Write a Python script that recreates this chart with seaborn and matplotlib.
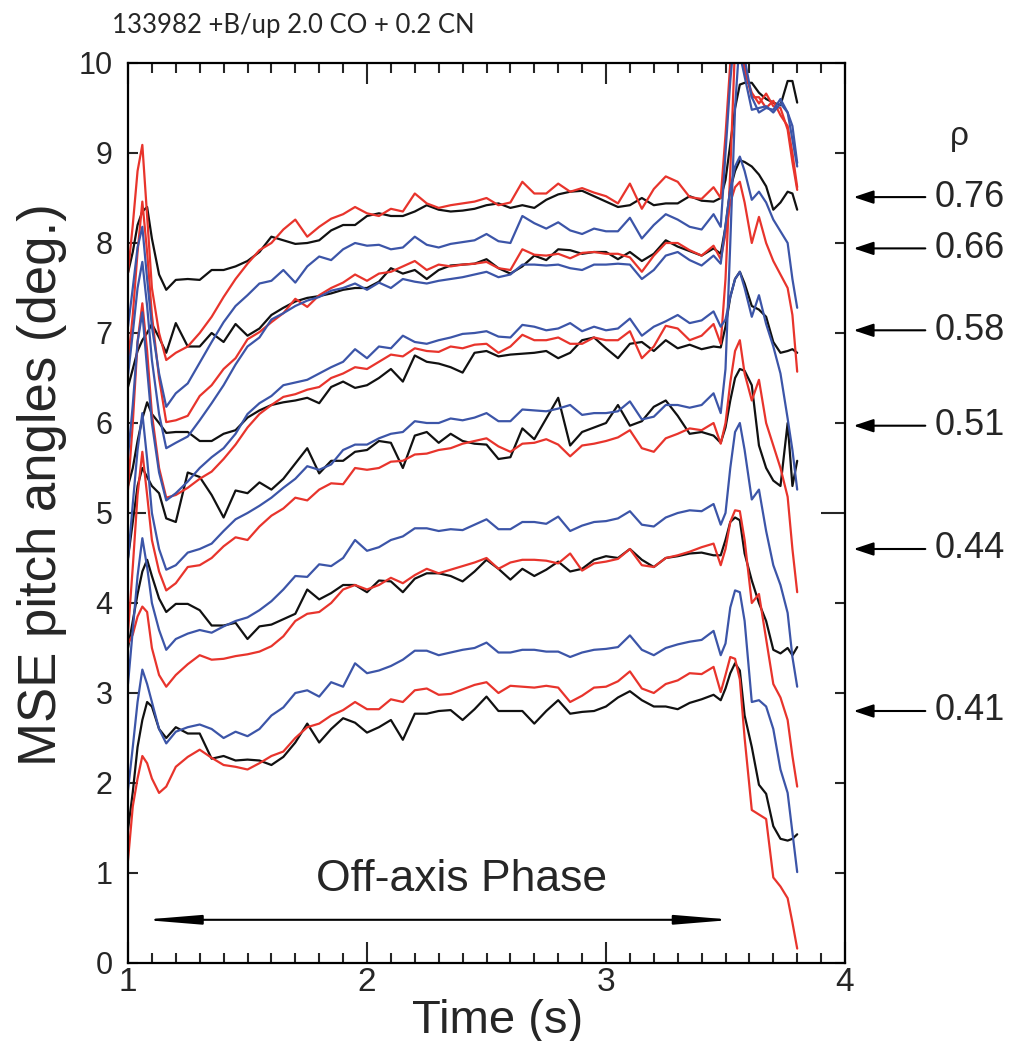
import numpy as np
import pandas as pd
import matplotlib
matplotlib.use("Agg")
import matplotlib.pyplot as plt
import matplotlib.transforms as mtransforms
from matplotlib.ticker import FixedLocator, MultipleLocator
import seaborn as sns

# ---------------- data ----------------
T = [1.00, 1.02, 1.04, 1.06, 1.08, 1.10, 1.13, 1.16, 1.20,
     1.25, 1.30, 1.35, 1.40, 1.45, 1.50, 1.55, 1.60, 1.65, 1.70,
     1.75, 1.80, 1.85, 1.90, 1.95, 2.00, 2.05, 2.10, 2.15, 2.20,
     2.25, 2.30, 2.35, 2.40, 2.45, 2.50, 2.55, 2.60, 2.65, 2.70,
     2.75, 2.80, 2.85, 2.90, 2.95, 3.00, 3.05, 3.10, 3.15, 3.20,
     3.25, 3.30, 3.35, 3.40, 3.45,
     3.48, 3.50, 3.52, 3.54, 3.56, 3.58, 3.61, 3.64, 3.67, 3.70, 3.73, 3.76, 3.78, 3.80]

k1 = [7.67, 7.90, 8.20, 8.35, 8.40, 8.05, 7.65, 7.48, 7.59,
      7.60, 7.59, 7.70, 7.70, 7.74, 7.80, 7.90, 8.07, 8.03, 7.99,
      8.00, 8.03, 8.14, 8.20, 8.20, 8.30, 8.33, 8.30, 8.30, 8.35,
      8.42, 8.37, 8.35, 8.36, 8.38, 8.42, 8.44, 8.39, 8.42, 8.39,
      8.48, 8.54, 8.57, 8.58, 8.52, 8.46, 8.40, 8.42, 8.50, 8.42,
      8.44, 8.44, 8.52, 8.47, 8.46,
      8.50, 8.70, 9.10, 9.50, 9.76, 9.78, 9.78, 9.67, 9.60, 9.56, 9.53, 9.80, 9.80, 9.56]
r1 = [7.67, 8.20, 8.80, 9.09, 8.30, 7.50, 7.00, 6.70, 6.78,
      6.85, 7.00, 7.18, 7.40, 7.60, 7.77, 7.92, 8.00, 8.15, 8.26,
      8.07, 8.18, 8.27, 8.32, 8.40, 8.33, 8.30, 8.38, 8.35, 8.55,
      8.44, 8.39, 8.42, 8.44, 8.46, 8.50, 8.42, 8.45, 8.68, 8.55,
      8.55, 8.66, 8.57, 8.61, 8.56, 8.52, 8.44, 8.66, 8.38, 8.60,
      8.74, 8.68, 8.51, 8.49, 8.62,
      8.50, 9.20, 10.0, 10.5, 10.1, 9.90, 9.67, 9.55, 9.66, 9.52, 9.50, 9.26, 8.90, 8.59]
b1 = [7.07, 7.50, 7.95, 8.18, 7.60, 7.07, 6.55, 6.18, 6.33,
      6.44, 6.67, 6.90, 7.12, 7.30, 7.42, 7.55, 7.58, 7.70, 7.56,
      7.74, 7.85, 7.81, 7.93, 8.00, 7.97, 7.98, 7.93, 7.95, 8.07,
      7.98, 7.95, 7.99, 8.01, 8.03, 8.10, 8.02, 8.00, 8.30, 8.22,
      8.16, 8.23, 8.14, 8.10, 8.16, 8.13, 8.13, 8.28, 8.05, 8.20,
      8.32, 8.26, 8.18, 8.15, 8.32,
      8.18, 9.00, 9.80, 10.4, 10.1, 9.85, 9.48, 9.50, 9.52, 9.45, 9.55, 9.45, 9.30, 8.89]
k2 = [6.40, 6.60, 6.80, 6.92, 7.00, 7.10, 6.95, 6.78, 7.11,
      6.85, 6.85, 7.00, 6.90, 7.10, 6.97, 7.05, 7.20, 7.28, 7.35,
      7.39, 7.41, 7.44, 7.48, 7.50, 7.50, 7.57, 7.72, 7.66, 7.70,
      7.60, 7.70, 7.75, 7.76, 7.77, 7.82, 7.72, 7.66, 7.74, 7.86,
      7.81, 7.93, 7.92, 7.88, 7.90, 7.90, 7.82, 7.90, 7.80, 7.88,
      8.03, 7.96, 7.91, 7.86, 7.94,
      7.88, 8.18, 8.60, 8.80, 8.92, 8.90, 8.85, 8.76, 8.63, 8.37, 8.45, 8.57, 8.55, 8.37]
r2 = [6.67, 7.20, 7.90, 8.46, 7.90, 7.20, 6.50, 6.01, 6.03,
      6.08, 6.30, 6.42, 6.60, 6.72, 6.93, 7.01, 7.12, 7.22, 7.38,
      7.29, 7.42, 7.50, 7.56, 7.65, 7.58, 7.66, 7.68, 7.74, 7.80,
      7.70, 7.76, 7.74, 7.76, 7.77, 7.79, 7.72, 7.70, 7.93, 7.87,
      7.86, 7.88, 7.83, 7.89, 7.90, 7.88, 7.88, 7.84, 7.68, 7.86,
      8.00, 8.00, 7.92, 7.86, 7.97,
      7.82, 8.10, 8.45, 8.62, 8.68, 8.45, 8.00, 8.29, 8.00, 7.80, 7.65, 7.50, 7.20, 6.57]
b2 = [6.53, 7.00, 7.50, 7.79, 7.30, 6.70, 6.10, 5.72, 5.78,
      5.85, 6.03, 6.22, 6.42, 6.65, 6.85, 6.95, 7.15, 7.22, 7.30,
      7.36, 7.40, 7.47, 7.50, 7.55, 7.48, 7.56, 7.50, 7.60, 7.57,
      7.55, 7.58, 7.60, 7.62, 7.65, 7.68, 7.62, 7.65, 7.76, 7.76,
      7.75, 7.76, 7.72, 7.70, 7.76, 7.76, 7.77, 7.76, 7.60, 7.70,
      7.86, 7.90, 7.81, 7.75, 7.86,
      7.77, 8.20, 8.60, 8.85, 8.96, 8.80, 8.48, 8.57, 8.45, 8.26, 8.13, 8.00, 7.60, 7.28]
k3 = [5.30, 5.50, 5.80, 6.05, 6.23, 6.10, 6.00, 5.89, 5.90,
      5.90, 5.80, 5.80, 5.88, 5.92, 6.06, 6.14, 6.20, 6.23, 6.25,
      6.28, 6.22, 6.40, 6.46, 6.39, 6.42, 6.50, 6.60, 6.46, 6.75,
      6.68, 6.66, 6.62, 6.56, 6.78, 6.80, 6.74, 6.76, 6.77, 6.78,
      6.80, 6.72, 6.78, 6.92, 6.95, 6.83, 6.72, 6.88, 6.90, 6.80,
      6.92, 6.83, 6.87, 6.82, 6.85,
      6.84, 7.07, 7.40, 7.60, 7.68, 7.55, 7.30, 7.26, 7.18, 6.90, 6.78, 6.80, 6.82, 6.78]
r3 = [5.26, 6.00, 6.90, 7.33, 6.80, 6.10, 5.50, 5.17, 5.20,
      5.28, 5.38, 5.46, 5.60, 5.76, 5.95, 6.10, 6.20, 6.29, 6.32,
      6.37, 6.40, 6.50, 6.55, 6.62, 6.60, 6.68, 6.76, 6.74, 6.83,
      6.80, 6.79, 6.85, 6.83, 6.87, 6.88, 6.78, 6.85, 6.98, 6.92,
      6.92, 6.95, 6.88, 6.88, 6.95, 6.92, 6.92, 7.02, 6.72, 6.85,
      7.08, 7.05, 6.92, 6.97, 7.10,
      6.88, 7.60, 8.80, 10.2, 10.3, 9.95, 9.62, 9.62, 9.50, 9.58, 9.42, 9.30, 9.00, 8.62]
b3 = [5.63, 6.20, 6.90, 7.23, 6.60, 6.00, 5.45, 5.14, 5.22,
      5.35, 5.50, 5.62, 5.72, 5.88, 6.10, 6.22, 6.30, 6.42, 6.45,
      6.48, 6.55, 6.62, 6.68, 6.82, 6.72, 6.85, 6.83, 6.97, 6.90,
      6.88, 6.92, 6.95, 6.99, 7.00, 7.02, 6.96, 6.95, 7.09, 7.07,
      7.03, 7.05, 7.11, 7.02, 7.07, 7.03, 7.05, 7.16, 6.97, 7.07,
      7.13, 7.20, 7.11, 7.14, 7.24,
      7.07, 7.15, 7.40, 7.60, 7.68, 7.50, 7.18, 7.42, 7.10, 6.85, 6.55, 6.05, 5.70, 5.26]
k4 = [4.50, 4.90, 5.30, 5.50, 5.40, 5.30, 5.22, 4.94, 4.90,
      5.45, 5.40, 5.20, 4.95, 5.25, 5.22, 5.34, 5.26, 5.38, 5.55,
      5.72, 5.44, 5.58, 5.58, 5.68, 5.70, 5.80, 5.78, 5.50, 5.86,
      5.90, 5.78, 5.88, 5.80, 5.77, 5.76, 5.60, 5.62, 5.94, 5.82,
      6.05, 6.28, 5.75, 5.90, 5.95, 6.00, 6.20, 5.97, 6.02, 6.18,
      6.25, 6.08, 5.88, 5.90, 5.86,
      5.78, 5.95, 6.25, 6.50, 6.60, 6.58, 6.42, 5.75, 5.50, 5.36, 5.30, 6.00, 5.30, 5.58]
r4 = [3.67, 4.40, 5.20, 5.68, 5.20, 4.70, 4.35, 4.14, 4.22,
      4.40, 4.42, 4.50, 4.63, 4.73, 4.70, 4.85, 4.97, 5.05, 5.17,
      5.14, 5.26, 5.33, 5.32, 5.50, 5.48, 5.50, 5.57, 5.58, 5.65,
      5.66, 5.70, 5.72, 5.77, 5.80, 5.83, 5.74, 5.68, 5.77, 5.78,
      5.82, 5.76, 5.63, 5.75, 5.77, 5.80, 5.84, 5.92, 5.72, 5.68,
      5.83, 5.88, 5.94, 5.92, 6.00,
      5.77, 6.00, 6.45, 6.80, 6.92, 6.55, 6.25, 6.48, 6.00, 5.75, 5.50, 5.18, 4.60, 4.12]
b4 = [4.48, 5.10, 5.70, 6.11, 5.60, 5.00, 4.60, 4.37, 4.42,
      4.56, 4.60, 4.66, 4.80, 4.93, 5.00, 5.08, 5.17, 5.28, 5.38,
      5.52, 5.48, 5.54, 5.70, 5.76, 5.76, 5.83, 5.88, 5.90, 6.02,
      6.00, 6.00, 6.05, 6.03, 6.06, 6.11, 6.02, 6.02, 6.15, 6.14,
      6.13, 6.16, 6.20, 6.09, 6.11, 6.11, 6.13, 6.24, 6.04, 6.07,
      6.20, 6.20, 6.17, 6.20, 6.33,
      6.11, 6.60, 8.00, 9.50, 10.3, 10.05, 9.62, 9.45, 9.50, 9.48, 9.60, 9.45, 9.15, 8.85]
k5 = [3.50, 3.80, 4.10, 4.35, 4.48, 4.30, 4.05, 3.90, 3.99,
      3.99, 3.92, 3.75, 3.75, 3.78, 3.60, 3.74, 3.76, 3.82, 3.88,
      4.15, 4.04, 4.11, 4.20, 4.20, 4.12, 4.25, 4.24, 4.12, 4.27,
      4.33, 4.33, 4.30, 4.24, 4.35, 4.48, 4.38, 4.26, 4.38, 4.30,
      4.37, 4.46, 4.35, 4.38, 4.48, 4.52, 4.50, 4.60, 4.48, 4.40,
      4.50, 4.52, 4.55, 4.56, 4.53,
      4.53, 4.70, 4.90, 4.95, 4.92, 4.55, 4.25, 4.00, 3.80, 3.48, 3.44, 3.50, 3.42, 3.51]
r5 = [3.55, 3.65, 3.85, 3.96, 3.90, 3.50, 3.20, 3.07, 3.20,
      3.32, 3.42, 3.37, 3.38, 3.41, 3.43, 3.46, 3.52, 3.63, 3.80,
      3.88, 3.90, 4.00, 4.15, 4.20, 4.15, 4.20, 4.28, 4.22, 4.31,
      4.38, 4.33, 4.37, 4.41, 4.45, 4.50, 4.38, 4.45, 4.48, 4.48,
      4.47, 4.44, 4.55, 4.36, 4.44, 4.46, 4.49, 4.60, 4.42, 4.40,
      4.50, 4.53, 4.57, 4.62, 4.66,
      4.42, 4.60, 4.90, 5.03, 5.02, 4.70, 4.00, 4.10, 3.60, 3.10, 2.95, 2.70, 2.30, 1.96]
b5 = [3.10, 3.70, 4.30, 4.72, 4.40, 4.00, 3.70, 3.48, 3.60,
      3.66, 3.70, 3.67, 3.74, 3.80, 3.84, 3.92, 4.02, 4.15, 4.30,
      4.29, 4.43, 4.41, 4.50, 4.70, 4.58, 4.62, 4.70, 4.74, 4.83,
      4.83, 4.80, 4.82, 4.81, 4.87, 4.93, 4.82, 4.82, 4.90, 4.90,
      4.88, 4.96, 4.80, 4.86, 4.90, 4.91, 4.94, 5.02, 4.87, 4.85,
      4.95, 5.00, 5.03, 5.02, 5.10,
      4.87, 5.00, 5.50, 5.90, 6.00, 5.70, 5.15, 5.26, 4.80, 4.42, 4.20, 3.89, 3.40, 3.07]
k6 = [1.48, 1.90, 2.40, 2.70, 2.90, 2.85, 2.60, 2.50, 2.62,
      2.55, 2.55, 2.27, 2.30, 2.25, 2.26, 2.25, 2.20, 2.29, 2.45,
      2.66, 2.45, 2.60, 2.72, 2.67, 2.56, 2.62, 2.70, 2.48, 2.77,
      2.77, 2.80, 2.81, 2.70, 2.82, 2.96, 2.80, 2.80, 2.80, 2.66,
      2.80, 2.92, 2.77, 2.79, 2.80, 2.85, 2.95, 3.02, 2.92, 2.85,
      2.85, 2.82, 2.89, 2.93, 2.98,
      2.92, 3.05, 3.22, 3.33, 3.25, 2.75, 2.40, 1.98, 1.88, 1.52, 1.38, 1.36, 1.38, 1.43]
r6 = [1.14, 1.74, 2.05, 2.30, 2.22, 2.05, 1.89, 1.96, 2.18,
      2.29, 2.37, 2.28, 2.20, 2.18, 2.15, 2.22, 2.30, 2.35, 2.50,
      2.62, 2.66, 2.75, 2.81, 2.90, 2.82, 2.82, 2.93, 2.90, 3.03,
      3.05, 2.98, 2.99, 3.04, 3.09, 3.12, 3.00, 3.08, 3.07, 3.06,
      3.08, 3.06, 2.90, 2.97, 3.06, 3.07, 3.13, 3.24, 3.05, 3.00,
      3.10, 3.14, 3.22, 3.21, 3.29,
      3.01, 3.20, 3.40, 3.38, 3.15, 2.50, 1.70, 1.65, 1.60, 0.95, 0.85, 0.72, 0.45, 0.16]
b6 = [1.92, 2.40, 2.90, 3.26, 3.10, 2.90, 2.60, 2.44, 2.57,
      2.62, 2.65, 2.60, 2.50, 2.57, 2.52, 2.60, 2.75, 2.84, 3.00,
      3.03, 2.96, 3.12, 3.07, 3.33, 3.22, 3.25, 3.30, 3.37, 3.47,
      3.47, 3.42, 3.45, 3.48, 3.50, 3.56, 3.45, 3.45, 3.48, 3.48,
      3.46, 3.46, 3.40, 3.45, 3.48, 3.49, 3.51, 3.64, 3.48, 3.42,
      3.50, 3.54, 3.57, 3.59, 3.69,
      3.42, 3.55, 3.95, 4.14, 4.12, 3.80, 2.90, 2.92, 2.85, 2.60, 2.15, 1.89, 1.45, 1.01]

series = {
    "k1": ("black", k1), "r1": ("red", r1), "b1": ("blue", b1),
    "k2": ("black", k2), "r2": ("red", r2), "b2": ("blue", b2),
    "k3": ("black", k3), "r3": ("red", r3), "b3": ("blue", b3),
    "k4": ("black", k4), "r4": ("red", r4), "b4": ("blue", b4),
    "k5": ("black", k5), "r5": ("red", r5), "b5": ("blue", b5),
    "k6": ("black", k6), "r6": ("red", r6), "b6": ("blue", b6),
}

rho_labels = ["0.76", "0.66", "0.58", "0.51", "0.44", "0.41"]
rho_levels = [8.51, 7.94, 7.03, 5.97, 4.60, 2.80]
x_ticks = [1, 2, 3, 4]
y_ticks = [0, 1, 2, 3, 4, 5, 6, 7, 8, 9, 10]
title = "133982 +B/up 2.0 CO + 0.2 CN"

rows = []
for name, (col, vals) in series.items():
    assert len(vals) == len(T), name
    for t, v in zip(T, vals):
        rows.append({"t": t, "v": v, "line": name, "color": col})
df = pd.DataFrame(rows)

# ---------------- style ----------------
sns.set_style("white")
plt.rcParams["font.family"] = ["Liberation Sans", "DejaVu Sans"]

fig = plt.figure(figsize=(10.3, 10.41), dpi=100)
ax = fig.add_axes([128 / 1030, 1 - 963 / 1041, 717 / 1030, 900 / 1041])

palette = {"black": "#111111", "red": "#e8342c", "blue": "#3c55a8"}
sns.lineplot(data=df, x="t", y="v", hue="color", units="line", estimator=None,
             palette=palette, sort=False, legend=False, linewidth=1.6, ax=ax)

ax.set_xlim(1, 4)
ax.set_ylim(0, 10)
for s in ax.spines.values():
    s.set_linewidth(1.6)
    s.set_color("black")

ax.xaxis.set_major_locator(FixedLocator(x_ticks))
ax.xaxis.set_minor_locator(MultipleLocator(0.1))
ax.set_xticklabels([str(v) for v in x_ticks])
ax.yaxis.set_major_locator(FixedLocator(y_ticks))
ax.set_yticklabels([str(v) for v in y_ticks])

ax.tick_params(axis="x", which="major", direction="in", length=15, width=1.5,
               top=True, bottom=True, labelsize=24, pad=3)
ax.tick_params(axis="x", which="minor", direction="in", length=7, width=1.5,
               top=True, bottom=True)
ax.tick_params(axis="y", which="major", direction="in", length=7, width=1.5,
               left=True, right=True, labelsize=22, pad=11)
yt = ax.yaxis.get_major_ticks()
yt[5].tick1line.set_markersize(13)
yt[5].tick2line.set_markersize(17)

ax.set_xlabel("Time (s)", fontsize=34)
ax.xaxis.set_label_coords(0.515, -0.040)
ax.set_ylabel("MSE pitch angles (deg.)", fontsize=38)
ax.yaxis.set_label_coords(-0.085, 0.531)

fig.text(112 / 1030, 1 - 33 / 1041, title, fontsize=18.5, family=["Lato", "DejaVu Sans"],
         va="baseline", ha="left")

# Off-axis phase
ax.text(2.397, 0.93, "Off-axis Phase", ha="center", va="center", fontsize=32)
ax.annotate("", xy=(1.062, 0.48), xytext=(3.53, 0.48),
            arrowprops=dict(arrowstyle="<|-|>,head_length=1.7,head_width=0.14",
                            color="black", lw=1.5, mutation_scale=20,
                            shrinkA=0, shrinkB=0))

# rho arrows and labels
trans = mtransforms.blended_transform_factory(ax.transAxes, ax.transData)
for lab, lvl in zip(rho_labels, rho_levels):
    ax.annotate("", xy=(1.012, lvl), xytext=(1.112, lvl),
                xycoords=trans, textcoords=trans,
                arrowprops=dict(arrowstyle="-|>,head_length=0.6,head_width=0.2",
                                color="black", lw=1.5, mutation_scale=20,
                                shrinkA=0, shrinkB=0),
                annotation_clip=False)
    ax.text(1.125, lvl, lab, transform=trans, ha="left", va="center",
            fontsize=26, clip_on=False)
ax.text(1.16, 9.18, "ρ", transform=trans, ha="center", va="center",
        fontsize=24, clip_on=False)

fig.savefig("out.png", dpi=100)
